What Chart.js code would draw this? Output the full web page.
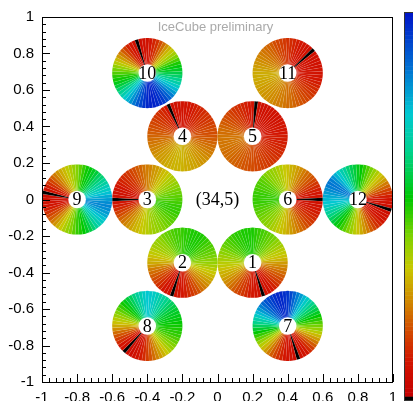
<!DOCTYPE html>
<html>
<head>
<meta charset="utf-8">
<script src="https://cdn.jsdelivr.net/npm/chart.js@4"></script>
<style>
    html, body { margin: 0; padding: 0; background: #fff; }
    #wrap { width: 413px; height: 401px; }
</style>
</head>
<body>
<div id="wrap"><canvas id="wheelChart" width="413" height="401"></canvas></div>
<script>
// Wheel positions (hex layout) and labels
const wheelLabels = ["1", "2", "3", "4", "5", "6", "7", "8", "9", "10", "11", "12"];
const wheelX = [0.2, -0.2, -0.4, -0.2, 0.2, 0.4, 0.4, -0.4, -0.8, -0.4, 0.4, 0.8];
const wheelY = [-0.3464, -0.3464, 0, 0.3464, 0.3464, 0, -0.6928, -0.6928, 0, 0.6928, 0.6928, 0];
const wheelRadius = 0.2;
const holeRadius = 0.05;
const centreLabel = "(34,5)";
const titleText = "IceCube preliminary";

// Wedge values, 60 per wheel, clockwise from 12 o'clock (0 = black)
const wheel1 = [50, 49, 48, 47, 46, 45, 44, 43, 41, 40, 38, 36, 35, 33, 31, 28, 26, 24, 22, 20,
    18, 16, 14, 12, 10, 9, 8, 0, 8, 9, 10, 11, 13, 15, 16, 18, 20, 22, 24, 26,
    28, 30, 31, 33, 35, 36, 38, 39, 41, 42, 44, 45, 46, 47, 48, 49, 49, 50, 50, 50];
const wheel2 = [48, 49, 49, 50, 50, 50, 50, 49, 48, 47, 46, 45, 44, 43, 41, 40, 38, 36, 34, 32,
    30, 28, 26, 24, 22, 19, 17, 15, 13, 11, 10, 9, 8, 0, 8, 9, 10, 12, 14, 16,
    18, 20, 22, 24, 27, 30, 31, 33, 35, 36, 38, 39, 40, 41, 43, 44, 45, 46, 47, 47];
const wheel3 = [24, 25, 27, 28, 30, 32, 33, 35, 37, 38, 40, 41, 43, 44, 45, 46, 47, 48, 48, 48,
    47, 46, 45, 44, 43, 42, 41, 40, 39, 38, 36, 35, 34, 32, 31, 29, 27, 25, 23, 21,
    18, 16, 13, 11, 9, 0, 8, 8, 9, 10, 11, 12, 13, 14, 15, 17, 18, 20, 21, 23];
const wheel4 = [9, 9, 10, 10, 11, 12, 12, 13, 14, 14, 15, 16, 17, 18, 18, 19, 20, 21, 22, 23,
    24, 25, 26, 27, 27, 28, 29, 29, 30, 30, 31, 31, 31, 31, 30, 30, 29, 28, 28, 27,
    26, 25, 24, 23, 22, 21, 20, 19, 18, 17, 16, 15, 14, 13, 12, 10, 0, 8, 8, 9];
const wheel5 = [9, 0, 8, 8, 8, 8, 9, 9, 9, 9, 9, 10, 10, 10, 10, 11, 11, 11, 12, 12,
    13, 13, 14, 14, 15, 15, 16, 16, 17, 17, 18, 18, 19, 19, 20, 20, 21, 21, 22, 22,
    22, 23, 23, 23, 23, 23, 22, 22, 21, 20, 19, 18, 17, 16, 15, 14, 13, 12, 11, 10];
const wheel6 = [33, 31, 30, 28, 26, 24, 22, 21, 19, 17, 15, 13, 11, 10, 9, 0, 8, 9, 10, 11,
    12, 13, 15, 16, 18, 20, 22, 24, 26, 28, 30, 32, 33, 35, 37, 38, 40, 41, 42, 43,
    44, 45, 46, 47, 48, 48, 48, 48, 47, 46, 46, 45, 44, 42, 41, 40, 39, 37, 36, 34];
const wheel7 = [95, 92, 88, 84, 80, 76, 72, 68, 64, 61, 58, 55, 52, 49, 46, 43, 40, 36, 32, 28,
    24, 20, 16, 13, 10, 9, 8, 0, 7, 8, 9, 10, 12, 14, 17, 20, 24, 28, 32, 36,
    40, 44, 48, 52, 56, 60, 64, 68, 72, 76, 80, 84, 87, 90, 92, 94, 96, 97, 97, 96];
const wheel8 = [74, 73, 72, 70, 68, 66, 64, 62, 60, 58, 56, 55, 54, 53, 52, 51, 50, 49, 48, 46,
    44, 42, 40, 37, 34, 31, 28, 25, 22, 19, 16, 13, 11, 9, 8, 7, 7, 0, 8, 10,
    13, 16, 19, 22, 26, 30, 33, 36, 39, 42, 45, 48, 51, 54, 57, 60, 63, 66, 69, 72];
const wheel9 = [42, 45, 48, 51, 53, 55, 57, 60, 62, 65, 67, 70, 72, 75, 78, 80, 82, 83, 82, 80,
    78, 75, 72, 69, 66, 62, 58, 55, 52, 50, 48, 45, 42, 40, 37, 34, 31, 27, 24, 20,
    17, 14, 11, 9, 8, 7, 7, 0, 9, 11, 14, 17, 21, 24, 27, 30, 32, 35, 37, 40];
const wheel10 = [8, 10, 12, 14, 18, 22, 27, 31, 35, 38, 42, 46, 50, 53, 55, 58, 61, 64, 68, 72,
    76, 80, 84, 88, 91, 94, 96, 97, 98, 98, 97, 95, 92, 89, 85, 81, 77, 73, 69, 65,
    61, 57, 54, 51, 49, 46, 43, 40, 36, 32, 28, 24, 20, 16, 12, 10, 8, 0, 7, 8];
const wheel11 = [14, 13, 12, 11, 10, 10, 9, 8, 0, 8, 8, 8, 8, 8, 9, 9, 10, 10, 11, 12,
    13, 14, 15, 16, 17, 18, 19, 20, 21, 22, 22, 23, 24, 24, 25, 26, 26, 27, 27, 28,
    28, 29, 29, 30, 30, 30, 29, 28, 27, 26, 25, 24, 23, 22, 21, 20, 18, 17, 16, 15];
const wheel12 = [54, 52, 49, 46, 43, 40, 37, 34, 31, 28, 24, 21, 17, 14, 11, 9, 8, 7, 0, 7,
    8, 9, 10, 12, 14, 17, 20, 24, 27, 30, 33, 36, 39, 42, 45, 48, 51, 54, 57, 60,
    63, 66, 69, 72, 74, 76, 78, 80, 82, 84, 85, 84, 81, 77, 73, 69, 66, 62, 59, 57];
const wheelValues = [wheel1, wheel2, wheel3, wheel4, wheel5, wheel6,
    wheel7, wheel8, wheel9, wheel10, wheel11, wheel12];

// Palette: value 0..100 -> colour (0 is black)
const paletteStops = [
    [1, 195, 0, 0], [10, 210, 20, 0], [18, 210, 75, 0], [26, 208, 140, 0],
    [34, 200, 200, 0], [42, 130, 210, 0], [52, 0, 200, 0], [64, 0, 210, 140],
    [74, 0, 200, 210], [86, 0, 110, 210], [100, 0, 20, 200],
];

function paletteColor(v) {
    if (v < 1) return "rgb(0,0,0)";
    for (let i = 1; i < paletteStops.length; i++) {
        const a = paletteStops[i - 1], b = paletteStops[i];
        if (v <= b[0]) {
            const t = (v - a[0]) / (b[0] - a[0]);
            const c = [1, 2, 3].map((k) => Math.round(a[k] + t * (b[k] - a[k])));
            return "rgb(" + c.join(",") + ")";
        }
    }
    const l = paletteStops[paletteStops.length - 1];
    return "rgb(" + l[1] + "," + l[2] + "," + l[3] + ")";
}

// Wheels, frame, ticks, palette bar
const wheelPlugin = {
    id: "wheels",
    afterDatasetsDraw(chart) {
        const ctx = chart.ctx;
        const xs = chart.scales.x;
        const meta = chart.getDatasetMeta(0);
        const R = xs.getPixelForValue(wheelRadius) - xs.getPixelForValue(0);
        const r0 = xs.getPixelForValue(holeRadius) - xs.getPixelForValue(0);
        ctx.save();
        meta.data.forEach((pt, k) => {
            const vals = wheelValues[k];
            const n = vals.length;
            const step = (2 * Math.PI) / n;
            vals.forEach((v, i) => {
                const a0 = -Math.PI / 2 + (i - 0.5) * step;
                ctx.beginPath();
                ctx.moveTo(pt.x, pt.y);
                ctx.arc(pt.x, pt.y, R, a0, a0 + step);
                ctx.closePath();
                ctx.fillStyle = paletteColor(v);
                ctx.fill();
            });
            // faint light separators
            ctx.strokeStyle = "rgba(255,255,255,0.18)";
            ctx.lineWidth = 0.5;
            for (let i = 0; i < n; i++) {
                const a = -Math.PI / 2 + (i - 0.5) * step;
                ctx.beginPath();
                ctx.moveTo(pt.x, pt.y);
                ctx.lineTo(pt.x + R * Math.cos(a), pt.y + R * Math.sin(a));
                ctx.stroke();
            }
            ctx.beginPath();
            ctx.arc(pt.x, pt.y, r0, 0, 2 * Math.PI);
            ctx.fillStyle = "#fff";
            ctx.fill();
            ctx.fillStyle = "#000";
            ctx.font = "18px 'Liberation Serif', 'Times New Roman', serif";
            ctx.textAlign = "center";
            ctx.textBaseline = "middle";
            ctx.fillText(wheelLabels[k], pt.x, pt.y + 1);
        });
        ctx.restore();
    },
    afterDraw(chart) {
        const ctx = chart.ctx;
        const a = chart.chartArea;
        const xs = chart.scales.x;
        const ys = chart.scales.y;
        ctx.save();
        // centre label and title
        ctx.fillStyle = "#000";
        ctx.font = "18px 'Liberation Serif', 'Times New Roman', serif";
        ctx.textAlign = "center";
        ctx.textBaseline = "middle";
        ctx.fillText(centreLabel, xs.getPixelForValue(0), ys.getPixelForValue(0) + 1);
        ctx.fillStyle = "#aaaaaa";
        ctx.font = "13px 'Liberation Sans', Arial, sans-serif";
        ctx.fillText(titleText, xs.getPixelForValue(0) - 2, a.top + 10);
        // frame
        ctx.strokeStyle = "#000";
        ctx.lineWidth = 1;
        ctx.strokeRect(a.left + 0.5, a.top + 0.5, a.right - a.left - 1, a.bottom - a.top);
        // inward ticks on left and bottom
        for (let k = 0; k <= 50; k++) {
            const v = -1 + k * 0.04;
            const len = k % 5 === 0 ? 8 : 4;
            const px = Math.round(xs.getPixelForValue(v)) + 0.5;
            const py = Math.round(ys.getPixelForValue(v)) + 0.5;
            ctx.beginPath();
            ctx.moveTo(px, a.bottom);
            ctx.lineTo(px, a.bottom - len);
            ctx.moveTo(a.left, py);
            ctx.lineTo(a.left + len, py);
            ctx.stroke();
        }
        // palette bar
        const bx = 404, top = 12, bottom = 400, nb = 100;
        const bh = (bottom - top) / nb;
        for (let i = 0; i < nb; i++) {
            ctx.fillStyle = paletteColor(i + 0.5);
            ctx.fillRect(bx, bottom - (i + 1) * bh, 12, bh + 0.5);
        }
        ctx.strokeStyle = "#333";
        ctx.strokeRect(bx + 0.5, top + 0.5, 12, bottom - top);
        ctx.restore();
    },
};

const tickFont = { family: "'Liberation Sans', Arial, sans-serif", size: 15 };
const fmt = (v) => String(Math.round(v * 10) / 10);

const ctx = document.getElementById("wheelChart").getContext("2d");
const wheelChart = new Chart(ctx, {
    type: "scatter",
    data: {
        datasets: [
            {
                data: wheelX.map((x, i) => ({ x: x, y: wheelY[i] })),
                pointRadius: 0,
                pointHoverRadius: 0,
            },
        ],
    },
    options: {
        responsive: false,
        animation: false,
        devicePixelRatio: 1,
        layout: { padding: { top: 16, right: 20, left: 0, bottom: 0 } },
        plugins: {
            legend: { display: false },
            tooltip: { enabled: false },
        },
        scales: {
            x: {
                type: "linear",
                min: -1,
                max: 1,
                afterFit: (s) => { s.height = 19; },
                ticks: { stepSize: 0.2, color: "#000", font: tickFont, padding: 7, maxRotation: 0, callback: fmt },
                grid: { drawOnChartArea: false, drawTicks: false },
                border: { display: false },
            },
            y: {
                type: "linear",
                min: -1,
                max: 1,
                afterFit: (s) => { s.width = 42; },
                ticks: { stepSize: 0.2, color: "#000", font: tickFont, padding: 8, callback: fmt },
                grid: { drawOnChartArea: false, drawTicks: false },
                border: { display: false },
            },
        },
    },
    plugins: [wheelPlugin],
});
</script>
</body>
</html>
